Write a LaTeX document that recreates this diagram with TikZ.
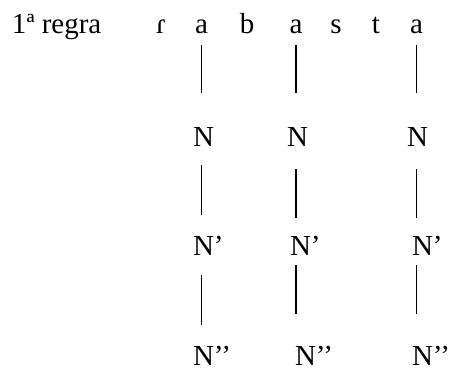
\documentclass[tikz,border=0pt]{standalone}
\usepackage{fontspec}
\setmainfont{Liberation Serif}
\begin{document}
\begin{tikzpicture}[x=1pt,y=-1pt,
  lbl/.style={inner sep=0pt,outer sep=0pt,font=\fontsize{29}{32}\selectfont},
  stem/.style={line width=1.6pt}]
\useasboundingbox (0,0) rectangle (449,372);
% first line: rule label and the segments
\node[lbl,anchor=base west] (rule) at (12,33) {1ª regra};
\node[lbl,anchor=base] (s1) at (161,33) {ɾ};
\node[lbl,anchor=base] (a1) at (201.5,33) {a};
\node[lbl,anchor=base] (s3) at (247,33) {b};
\node[lbl,anchor=base] (a2) at (296,33) {a};
\node[lbl,anchor=base] (s5) at (336,33) {s};
\node[lbl,anchor=base] (s6) at (376,33) {t};
\node[lbl,anchor=base] (a3) at (416.5,33) {a};
% projection levels
\node[lbl,anchor=base west] (n1) at (193,146) {N};
\node[lbl,anchor=base west] (n2) at (287,146) {N};
\node[lbl,anchor=base west] (n3) at (407,146) {N};
\node[lbl,anchor=base west] (n1p) at (193,255) {N’};
\node[lbl,anchor=base west] (n2p) at (290,255) {N’};
\node[lbl,anchor=base west] (n3p) at (412,255) {N’};
\node[lbl,anchor=base west] (n1pp) at (193,365) {N’’};
\node[lbl,anchor=base west] (n2pp) at (295,365) {N’’};
\node[lbl,anchor=base west] (n3pp) at (412,365) {N’’};
% vertical association lines
\draw[stem,shorten <=12pt,shorten >=33.8pt] (a1.south) -- (a1.south |- n1.north);
\draw[stem,shorten <=12pt,shorten >=33.8pt] (a2.south) -- (a2.south |- n2.north);
\draw[stem,shorten <=12pt,shorten >=33.8pt] (a3.south) -- (a3.south |- n3.north);
\draw[stem,shorten <=19pt,shorten >=20.4pt] (a1.south |- n1.south) -- (a1.south |- n1p.north);
\draw[stem,shorten <=23pt,shorten >=17.4pt] (a2.south |- n2.south) -- (a2.south |- n2p.north);
\draw[stem,shorten <=23pt,shorten >=17.4pt] (a3.south |- n3.south) -- (a3.south |- n3p.north);
\draw[stem,shorten <=20pt,shorten >=20.4pt] (a1.south |- n1p.south) -- (a1.south |- n1pp.north);
\draw[stem,shorten <=10pt,shorten >=31.4pt] (a2.south |- n2p.south) -- (a2.south |- n2pp.north);
\draw[stem,shorten <=10pt,shorten >=31.4pt] (a3.south |- n3p.south) -- (a3.south |- n3pp.north);
\end{tikzpicture}
\end{document}
